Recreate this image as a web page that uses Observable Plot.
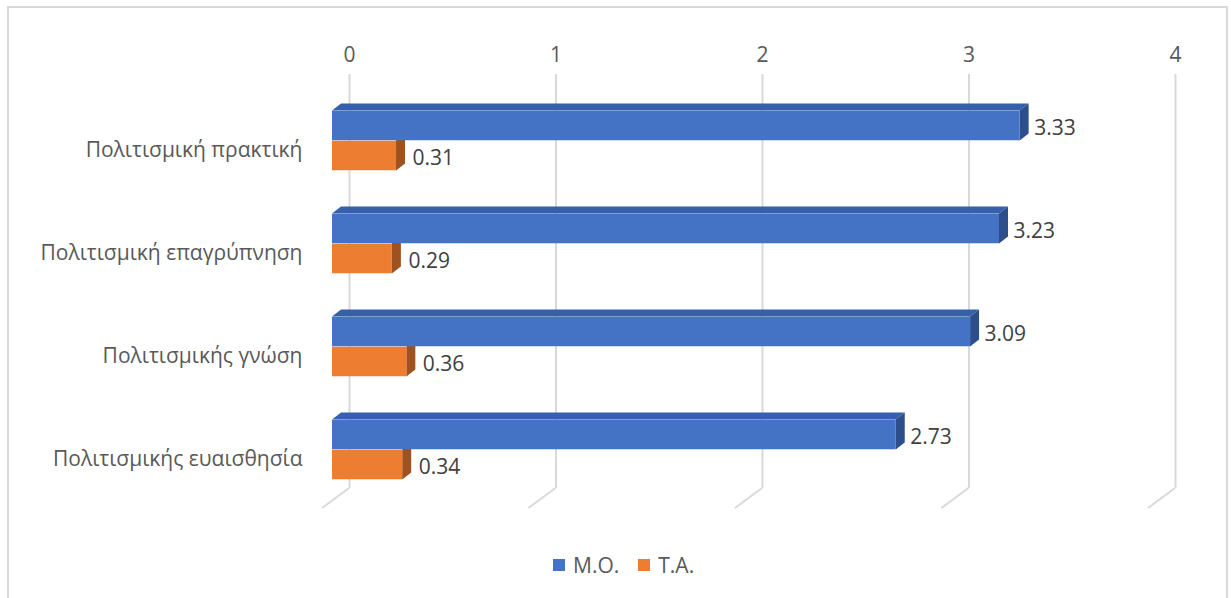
<!DOCTYPE html>
<html>
<head>
<meta charset="utf-8">
<script src="https://cdn.jsdelivr.net/npm/d3@7"></script>
<script src="https://cdn.jsdelivr.net/npm/@observablehq/plot@0.6"></script>
<style>
  html, body { margin: 0; padding: 0; background: #fff; }
  body { width: 1231px; height: 598px; position: relative; overflow: hidden; font-family: "Open Sans", sans-serif; }
  #frame { position: absolute; left: 7px; top: 6px; width: 1221px; height: 640px; border: 2px solid #D9D9D9; box-sizing: border-box; pointer-events: none; }
  #chart { position: absolute; left: 0; top: 0; }
  #legend { position: absolute; left: 553px; top: 551px; display: flex; align-items: center; font-size: 21px; color: #595959; }
  #legend .item { display: flex; align-items: center; }
  #legend .sw { width: 12px; height: 12px; margin-right: 8px; }
  #legend .item + .item { margin-left: 19px; }
</style>
</head>
<body>
<div id="chart"></div>
<div id="legend"></div>
<div id="frame"></div>
<script>
const categories = ["Πολιτισμική πρακτική", "Πολιτισμική επαγρύπνηση", "Πολιτισμικής γνώση", "Πολιτισμικής ευαισθησία"];
const moValues = [3.33, 3.23, 3.09, 2.73];
const taValues = [0.31, 0.29, 0.36, 0.34];
const seriesNames = ["Μ.Ο.", "Τ.Α."];
const tickValues = [0, 1, 2, 3, 4];

const colors = {
  moFront: "#4472C4", moTop: "#3660AE", moSide: "#2C4F8C",
  taFront: "#ED7D31", taSide: "#9E5220"
};

const mo = categories.map((c, i) => ({cat: c, value: moValues[i]}));
const ta = categories.map((c, i) => ({cat: c, value: taValues[i]}));

const W = 1231, H = 540, MT = 74, MB = 52;
const barH = 30, depthX = 9, depthY = 7, gridShift = 17;
const FS = 21;

function band(scales) {
  const y = scales.y;
  const bw = y.bandwidth ? y.bandwidth() : 103.5;
  return {y, bw};
}

function ns(tag) { return document.createElementNS("http://www.w3.org/2000/svg", tag); }
function poly(g, pts, fill) {
  const p = ns("polygon");
  p.setAttribute("points", pts.map(d => d.join(",")).join(" "));
  p.setAttribute("fill", fill);
  g.appendChild(p);
}

// floor diagonals of the gridlines
function floorLines(index, scales, values, dimensions) {
  const g = ns("g");
  const yb = dimensions.height - dimensions.marginBottom;
  for (const t of tickValues) {
    const x = scales.x(t) + gridShift;
    const l = ns("line");
    l.setAttribute("x1", x); l.setAttribute("y1", yb);
    l.setAttribute("x2", x - 27); l.setAttribute("y2", yb + 20);
    l.setAttribute("stroke", "#D9D9D9"); l.setAttribute("stroke-width", 2);
    g.appendChild(l);
  }
  return g;
}

// orange side faces
function taFaces(index, scales) {
  const g = ns("g");
  const {y, bw} = band(scales);
  ta.forEach(d => {
    const c = y(d.cat) + bw / 2;
    const x1 = scales.x(d.value);
    poly(g, [[x1, c], [x1 + depthX, c - depthY], [x1 + depthX, c + barH - depthY], [x1, c + barH]], colors.taSide);
  });
  return g;
}

// blue top and side faces
function moFaces(index, scales) {
  const g = ns("g");
  const {y, bw} = band(scales);
  mo.forEach(d => {
    const c = y(d.cat) + bw / 2;
    const top = c - barH;
    const x0 = scales.x(0), x1 = scales.x(d.value);
    poly(g, [[x0, top], [x1, top], [x1 + depthX, top - depthY], [x0 + depthX, top - depthY]], colors.moTop);
    poly(g, [[x1, top], [x1 + depthX, top - depthY], [x1 + depthX, c - depthY], [x1, c]], colors.moSide);
  });
  return g;
}

const half = 103.5 / 2;

const plot = Plot.plot({
  width: W,
  height: H,
  marginTop: MT,
  marginBottom: MB,
  marginLeft: 0,
  marginRight: 0,
  style: {fontFamily: "Open Sans, sans-serif", fontSize: FS + "px", color: "#595959", background: "transparent"},
  x: {domain: [0, 4], range: [332, 1158], axis: null},
  y: {domain: categories, range: [88.25, 502.25], padding: 0, axis: null},
  marks: [
    Plot.ruleX(tickValues, {x: d => d, dx: gridShift, stroke: "#D9D9D9", strokeWidth: 2, strokeOpacity: 1}),
    floorLines,
    Plot.text(tickValues, {x: d => d, frameAnchor: "top", dy: -27, dx: gridShift, text: d => String(d), fill: "#595959", fontSize: FS}),
    Plot.text(categories, {x: 0, y: d => d, text: d => d, textAnchor: "end", dx: -30, dy: 9, fill: "#595959", fontSize: FS}),
    taFaces,
    Plot.barX(ta, {x1: 0, x2: "value", y: "cat", fill: colors.taFront, insetTop: half, insetBottom: half - barH}),
    moFaces,
    Plot.barX(mo, {x1: 0, x2: "value", y: "cat", fill: colors.moFront, insetTop: half - barH, insetBottom: half}),
    Plot.text(mo, {x: "value", y: "cat", text: d => d.value.toFixed(2), textAnchor: "start", dx: 14, dy: -13, fill: "#404040", fontSize: FS}),
    Plot.text(ta, {x: "value", y: "cat", text: d => d.value.toFixed(2), textAnchor: "start", dx: 16, dy: 17, fill: "#404040", fontSize: FS})
  ]
});
document.getElementById("chart").appendChild(plot);

const legend = document.getElementById("legend");
[[seriesNames[0], colors.moFront], [seriesNames[1], colors.taFront]].forEach(([name, col]) => {
  const item = document.createElement("div");
  item.className = "item";
  const sw = document.createElement("div");
  sw.className = "sw";
  sw.style.background = col;
  const t = document.createElement("span");
  t.textContent = name;
  item.appendChild(sw); item.appendChild(t);
  legend.appendChild(item);
});
</script>
</body>
</html>
